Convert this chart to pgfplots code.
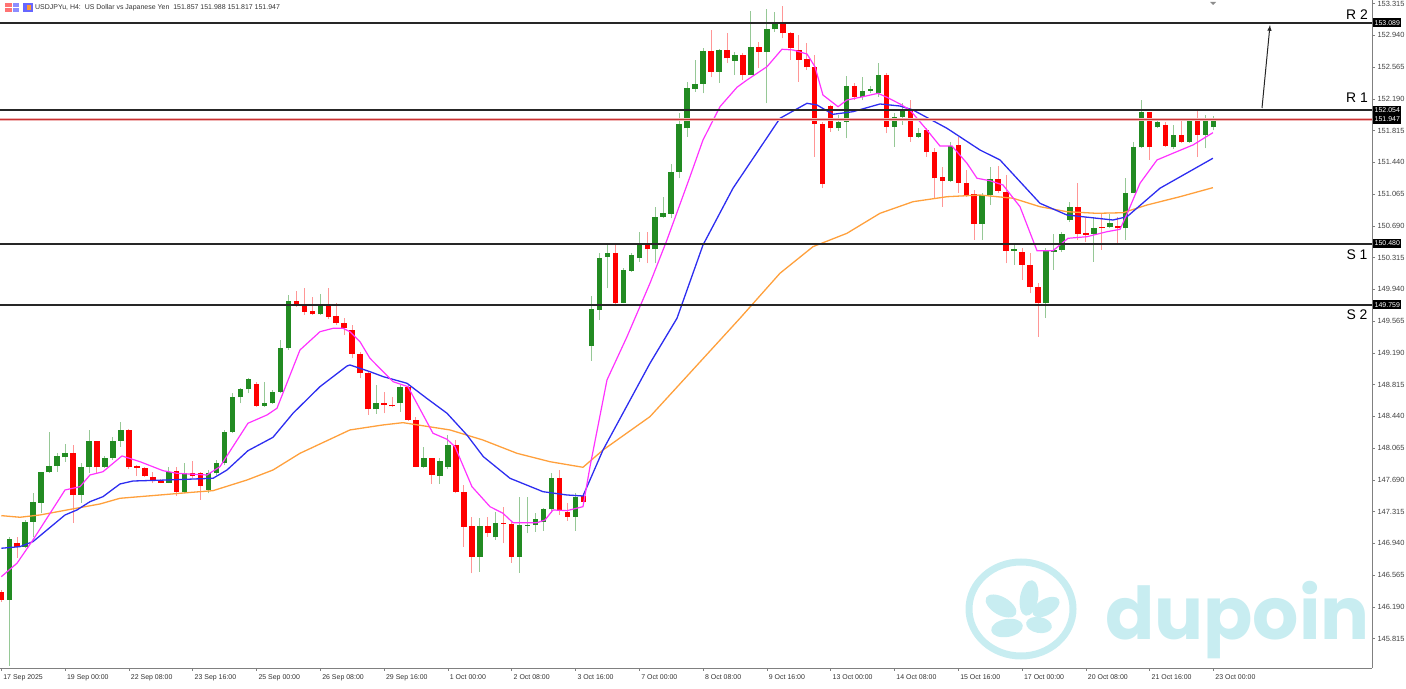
\documentclass[border=0pt]{standalone}
\usepackage{fontspec}
\setmainfont{Liberation Sans}
\newfontfamily\wmfont{Poppins}
\usepackage{pgfplots}
\usepackage{pgfplotstable}
\pgfplotsset{compat=1.18}
\definecolor{cgreen}{RGB}{34,139,34}
\definecolor{cred}{RGB}{255,0,0}
\definecolor{gwick}{RGB}{150,200,150}
\definecolor{rwick}{RGB}{255,150,150}
\definecolor{cmag}{RGB}{255,50,255}
\definecolor{cblue}{RGB}{45,45,240}
\definecolor{corange}{RGB}{255,160,60}
\definecolor{wm}{RGB}{200,237,241}
\definecolor{bidband}{RGB}{240,180,180}
\definecolor{bidline}{RGB}{200,50,50}

\pgfplotstableread{
i o h l c
1 146.272 147.020 145.493 146.989
3 146.902 147.217 146.886 147.197
4 147.197 147.536 147.016 147.433
5 147.421 147.787 147.296 147.787
6 147.780 148.260 147.772 147.858
7 147.858 148.004 147.787 147.976
8 147.957 148.114 147.905 148.004
10 147.512 147.890 147.418 147.846
11 147.846 148.280 147.772 148.150
13 147.839 147.976 147.827 147.953
14 147.953 148.200 147.925 148.153
15 148.153 148.378 148.082 148.280
21 147.657 147.846 147.650 147.787
23 147.551 147.886 147.532 147.768
26 147.571 147.807 147.532 147.768
27 147.768 147.925 147.748 147.893
28 147.893 148.280 147.866 148.260
29 148.260 148.713 148.241 148.666
30 148.666 148.772 148.595 148.760
31 148.760 148.890 148.713 148.878
33 148.563 148.850 148.555 148.595
34 148.595 148.752 148.587 148.732
35 148.732 149.342 148.713 149.244
36 149.244 149.874 149.224 149.806
40 149.646 149.885 149.638 149.767
47 148.524 148.811 148.469 148.602
50 148.595 148.811 148.496 148.791
53 147.846 148.082 147.827 147.953
55 147.736 147.945 147.642 147.913
56 147.846 148.220 147.815 148.102
60 146.783 147.237 146.606 147.146
62 147.012 147.315 146.981 147.185
65 146.783 147.492 146.595 147.158
66 147.150 147.492 147.060 147.158
67 147.158 147.296 147.079 147.229
68 147.190 147.362 147.091 147.350
69 147.343 147.768 147.296 147.716
72 147.256 147.532 147.091 147.492
74 149.271 149.862 149.098 149.705
75 149.697 150.366 149.578 150.314
76 150.326 150.464 149.953 150.366
78 149.783 150.189 149.775 150.169
79 150.161 150.373 150.149 150.346
80 150.307 150.621 150.267 150.484
82 150.413 150.916 150.248 150.798
83 150.798 151.034 150.779 150.838
84 150.830 151.421 150.779 151.330
85 151.330 152.019 151.252 151.893
86 151.842 152.392 151.743 152.314
87 152.303 152.649 152.274 152.365
88 152.365 152.787 152.255 152.755
90 152.510 152.775 152.381 152.767
92 152.637 152.747 152.471 152.708
94 152.471 153.231 152.471 152.806
96 152.747 153.247 152.137 153.011
97 153.011 153.219 152.983 153.074
105 151.842 151.999 151.814 151.916
106 151.916 152.460 151.724 152.342
108 152.215 152.451 152.176 152.286
109 152.286 152.342 152.255 152.303
110 152.255 152.617 152.215 152.471
112 151.861 152.019 151.625 151.979
113 151.979 152.144 151.881 152.066
115 151.743 151.842 151.724 151.790
119 151.223 151.684 151.212 151.633
123 150.712 151.075 150.523 151.054
124 151.054 151.382 150.936 151.240
127 150.397 150.464 150.228 150.417
131 149.776 150.425 149.599 150.393
132 150.385 150.594 150.169 150.405
133 150.405 150.621 150.385 150.594
134 150.759 150.975 150.739 150.909
137 150.594 150.798 150.267 150.668
139 150.680 150.830 150.661 150.727
141 150.661 151.252 150.523 151.082
142 151.082 151.684 151.075 151.618
143 151.618 152.176 151.606 152.038
145 151.854 151.960 151.842 151.913
147 151.618 151.881 151.594 151.763
149 151.684 151.960 151.672 151.940
151 151.763 151.999 151.606 151.940
152 151.857 151.988 151.817 151.947
}\bull

\pgfplotstableread{
i o h l c
0 146.367 146.390 146.249 146.272
2 146.942 147.020 146.768 146.902
9 148.004 148.102 147.181 147.512
12 148.150 148.150 147.775 147.839
16 148.280 148.288 147.815 147.846
17 147.851 147.866 147.736 147.834
18 147.834 147.846 147.728 147.736
19 147.728 147.787 147.650 147.681
20 147.681 147.697 147.650 147.657
22 147.799 147.846 147.500 147.551
24 147.768 147.913 147.709 147.736
25 147.768 147.787 147.453 147.622
32 148.823 148.850 148.555 148.563
37 149.806 149.924 149.736 149.767
38 149.767 149.953 149.638 149.677
39 149.685 149.854 149.638 149.646
41 149.767 149.953 149.587 149.617
42 149.626 149.776 149.519 149.547
43 149.547 149.599 149.401 149.480
44 149.460 149.519 149.126 149.177
45 149.177 149.204 148.890 148.949
46 148.949 148.968 148.457 148.524
48 148.602 148.732 148.477 148.578
49 148.578 148.666 148.548 148.559
51 148.791 148.811 148.389 148.398
52 148.398 148.437 147.839 147.846
54 147.953 147.953 147.642 147.748
57 148.102 148.161 147.532 147.551
58 147.544 147.630 146.902 147.138
59 147.146 147.256 146.587 146.783
61 147.146 147.256 147.020 147.060
63 147.185 147.374 146.942 147.170
64 147.170 147.197 146.713 146.783
70 147.716 147.807 147.276 147.327
71 147.315 147.414 147.209 147.256
73 147.500 147.532 147.414 147.433
77 150.373 150.476 149.744 149.783
81 150.484 150.621 150.248 150.413
89 152.755 153.003 152.444 152.510
91 152.767 152.964 152.610 152.669
93 152.708 152.728 152.412 152.471
95 152.806 152.865 152.551 152.747
98 153.089 153.286 152.905 152.964
99 152.964 152.983 152.649 152.787
100 152.767 152.944 152.392 152.649
101 152.657 152.846 152.530 152.562
102 152.569 152.708 151.507 151.893
103 151.893 151.920 151.134 151.184
104 152.105 152.117 151.802 151.842
107 152.342 152.373 152.176 152.215
111 152.471 152.499 151.783 151.861
114 152.058 152.176 151.684 151.743
116 151.822 151.842 151.507 151.566
117 151.566 151.606 151.016 151.252
118 151.271 151.389 150.916 151.223
120 151.645 151.743 151.075 151.193
121 151.193 151.350 151.034 151.054
122 151.063 151.114 150.523 150.712
125 151.240 151.397 151.075 151.105
126 151.093 151.291 150.248 150.397
128 150.385 150.425 150.051 150.228
129 150.228 150.366 149.894 149.965
130 149.965 150.012 149.381 149.776
135 150.909 151.200 150.523 150.594
136 150.602 150.798 150.503 150.586
138 150.680 150.830 150.405 150.665
140 150.692 150.798 150.484 150.661
144 152.038 152.038 151.468 151.618
146 151.881 151.920 151.618 151.633
148 151.763 151.960 151.665 151.684
150 151.940 152.058 151.500 151.763
}\bear

\begin{document}
\begin{tikzpicture}
% watermark
\draw[wm, line width=7bp] (1021bp,80bp) ellipse [x radius=52bp, y radius=47bp];
\fill[wm, rotate around={-10:(1029bp,91bp)}] (1029bp,91bp) ellipse [x radius=9bp, y radius=18bp];
\fill[wm, rotate around={-30:(1001bp,83bp)}] (1001bp,83bp) ellipse [x radius=17bp, y radius=9bp];
\fill[wm, rotate around={30:(1046bp,82bp)}] (1046bp,82bp) ellipse [x radius=15bp, y radius=8bp];
\fill[wm, rotate around={10:(1007bp,61bp)}] (1007bp,61bp) ellipse [x radius=16bp, y radius=9bp];
\fill[wm, rotate around={-10:(1039bp,64bp)}] (1039bp,64bp) ellipse [x radius=13bp, y radius=8bp];
\node[anchor=base west, inner sep=0pt, font=\wmfont\bfseries\fontsize{73}{73}\selectfont, text=wm] at (1105bp,49bp) {dupoin};

\begin{axis}[
  at={(0bp,21bp)}, anchor=south west,
  scale only axis, width=1372bp, height=668bp,
  xmin=-0.163, xmax=171.88, ymin=145.469, ymax=153.357,
  axis x line=bottom, axis y line=right,
  axis line style={draw=black!50, -, line width=0.8bp},
  tick align=outside, major tick length=3bp,
  tick style={draw=black!50, line width=0.6bp},
  xtick={0,8,...,152},
  xticklabels={17 Sep 2025, 19 Sep 00:00, 22 Sep 08:00, 23 Sep 16:00, 25 Sep 00:00, 26 Sep 08:00, 29 Sep 16:00, 1 Oct 00:00, 2 Oct 08:00, 3 Oct 16:00, 7 Oct 00:00, 8 Oct 08:00, 9 Oct 16:00, 13 Oct 00:00, 14 Oct 08:00, 15 Oct 16:00, 17 Oct 00:00, 20 Oct 08:00, 21 Oct 16:00, 23 Oct 00:00},
  xticklabel style={anchor=north west, xshift=-1.5bp, font=\fontsize{7}{8}\selectfont, text=black!80},
  ytick={145.815,146.190,146.565,146.940,147.315,147.690,148.065,148.440,148.815,149.190,149.565,149.940,150.315,150.690,151.065,151.440,151.815,152.190,152.565,152.940,153.315},
  yticklabel={\pgfmathprintnumber[fixed,fixed zerofill,precision=3,assume math mode=true]{\tick}},
  yticklabel style={anchor=west, xshift=-1bp, font=\fontsize{7.5}{8}\selectfont, text=black!75},
]
% wicks
\addplot[draw=none, mark=none, forget plot, error bars/.cd, y dir=plus, y explicit, error mark=none, error bar style={line width=1bp, draw=gwick, solid}]
  table[x=i, y=l, y error expr=\thisrow{h}-\thisrow{l}] {\bull};
\addplot[draw=none, mark=none, forget plot, error bars/.cd, y dir=plus, y explicit, error mark=none, error bar style={line width=1bp, draw=rwick, solid}]
  table[x=i, y=l, y error expr=\thisrow{h}-\thisrow{l}] {\bear};
% bodies
\addplot[draw=none, mark=none, forget plot, error bars/.cd, y dir=plus, y explicit, error mark=none, error bar style={line width=5.5bp, draw=cgreen, solid}]
  table[x=i, y=o, y error expr={max(\thisrow{c}-\thisrow{o},0.012)}] {\bull};
\addplot[draw=none, mark=none, forget plot, error bars/.cd, y dir=plus, y explicit, error mark=none, error bar style={line width=5.5bp, draw=cred, solid}]
  table[x=i, y=c, y error expr={max(\thisrow{o}-\thisrow{c},0.012)}] {\bear};

% moving averages
\addplot[corange, line width=1.3bp] coordinates {(0,147.268) (2.34,147.249) (4.85,147.276) (8.24,147.335) (12.38,147.406) (14.88,147.473) (19.90,147.512) (23.29,147.539) (26.55,147.563) (30.81,147.689) (34.07,147.807) (37.45,148.004) (43.72,148.280) (47.86,148.339) (50.37,148.366) (56.26,148.280) (60.40,148.161) (64.67,148.004) (68.80,147.905) (72.94,147.839) (75.45,148.043) (81.34,148.437) (92.63,149.599) (97.64,150.130) (101.78,150.444) (106.04,150.602) (110.18,150.838) (114.32,150.975) (118.58,151.034) (122.72,151.054) (126.86,151.016) (130.25,150.916) (133.63,150.857) (137.39,150.838) (140.65,150.845) (143.66,150.936) (147.80,151.034) (151.93,151.141)};
\addplot[cblue, line width=1.3bp] coordinates {(0,146.883) (2.34,146.902) (3.97,146.961) (7.99,147.276) (9.49,147.335) (11.12,147.433) (12.75,147.492) (14.88,147.642) (16.51,147.677) (20.78,147.689) (26.55,147.709) (28.30,147.807) (30.93,148.035) (34.07,148.193) (36.58,148.477) (39.96,148.791) (43.35,149.035) (43.72,149.047) (46.23,148.968) (47.90,148.909) (50.87,148.831) (53.34,148.654) (55.89,148.477) (58.39,148.220) (60.45,147.964) (63.79,147.709) (67.93,147.551) (70.93,147.512) (72.94,147.500) (75.45,148.043) (81.34,149.067) (84.73,149.599) (87.99,150.464) (91.75,151.134) (97.64,151.960) (101.03,152.137) (102.28,152.117) (104.29,152.007) (106.79,152.038) (110.18,152.129) (112.69,152.105) (114.32,152.058) (118.58,151.842) (122.72,151.586) (125.23,151.468) (130.25,150.956) (133.63,150.818) (139.40,150.759) (141.16,150.798) (145.29,151.134) (151.93,151.488)};
\addplot[cmag, line width=1.2bp] coordinates {(0,146.547) (1.97,146.706) (3.97,146.981) (7.99,147.571) (9.87,147.610) (11.12,147.748) (12.75,147.787) (15.13,147.973) (17.39,147.905) (20.28,147.799) (22.03,147.768) (25.79,147.748) (27.42,147.846) (30.93,148.359) (33.32,148.457) (34.57,148.536) (37.45,149.224) (39.96,149.440) (41.59,149.480) (42.85,149.480) (43.72,149.440) (44.98,149.322) (46.23,149.126) (49.12,148.850) (50.99,148.791) (54.13,148.241) (55.89,148.170) (56.89,148.082) (59.02,147.610) (61.28,147.374) (62.91,147.296) (64.16,147.185) (67.17,147.185) (68.18,147.217) (69.18,147.335) (70.93,147.327) (72.94,147.374) (73.82,147.846) (75.95,148.870) (78.46,149.381) (81.34,150.012) (83.47,150.523) (86.36,151.271) (87.99,151.704) (90.12,152.097) (92.25,152.326) (93.50,152.412) (96.01,152.569) (97.89,152.775) (99.27,152.767) (101.03,152.719) (102.03,152.569) (103.03,152.235) (104.92,152.097) (106.04,152.176) (108.05,152.215) (109.93,152.255) (111.06,152.208) (112.69,152.129) (113.94,152.058) (116.07,151.822) (117.70,151.633) (119.21,151.633) (121.09,151.429) (122.35,151.252) (123.97,151.223) (125.61,151.172) (127.74,150.916) (129.87,150.397) (131.88,150.397) (133.76,150.543) (136.14,150.562) (138.65,150.621) (140.28,150.649) (141.28,150.857) (142.79,151.193) (144.92,151.468) (146.92,151.547) (149.43,151.645) (151.93,151.790)};

% levels
\addplot[bidband, line width=3bp] coordinates {(-1,151.947) (175,151.947)};
\addplot[bidline, line width=0.8bp] coordinates {(-1,151.947) (175,151.947)};
\addplot[black!85, line width=1.8bp] coordinates {(-1,153.089) (175,153.089)};
\addplot[black!85, line width=1.8bp] coordinates {(-1,152.054) (175,152.054)};
\addplot[black!85, line width=1.8bp] coordinates {(-1,150.480) (175,150.480)};
\addplot[black!85, line width=1.8bp] coordinates {(-1,149.759) (175,149.759)};
\end{axis}

% price boxes
\foreach \yy/\tt in {666.3/153.089, 578.7/152.054, 569.4/151.947, 445.4/150.480, 384.3/149.759}{
  \node[anchor=west, fill=black, text=white, inner xsep=1.5bp, inner ysep=0.8bp, minimum height=9bp, font=\fontsize{7}{7}\selectfont] at (1373bp,\yy bp) {\tt};
}
% level names
\node[font=\fontsize{14}{14}\selectfont] at (1357bp,674bp) {R 2};
\node[font=\fontsize{14}{14}\selectfont] at (1357bp,591bp) {R 1};
\node[font=\fontsize{14}{14}\selectfont] at (1357bp,434bp) {S 1};
\node[font=\fontsize{14}{14}\selectfont] at (1357bp,374bp) {S 2};
% arrow
\draw[-latex, line width=1bp, black!85] (1262bp,581bp) -- (1270bp,664bp);
% current bar marker
\fill[black!45] (1210bp,687bp) -- (1216bp,687bp) -- (1213bp,684bp) -- cycle;
% title
\fill[red!55] (5bp,677bp) rectangle (11.5bp,686bp);
\fill[blue!45] (12.5bp,677bp) rectangle (19bp,686bp);
\draw[white, line width=0.5bp] (5bp,681.5bp) -- (19bp,681.5bp);
\fill[blue!60] (23bp,677bp) rectangle (33bp,686bp);
\fill[orange!80] (27bp,679bp) rectangle (31bp,684bp);
\node[anchor=west, inner sep=0pt, font=\fontsize{7}{7}\selectfont, text=black!80] at (35bp,681bp) {USDJPYu, H4:\ \ US Dollar vs Japanese Yen\ \ 151.857 151.988 151.817 151.947};

\pgfresetboundingbox
\useasboundingbox (0bp,0bp) rectangle (1406bp,689bp);
\end{tikzpicture}
\end{document}
